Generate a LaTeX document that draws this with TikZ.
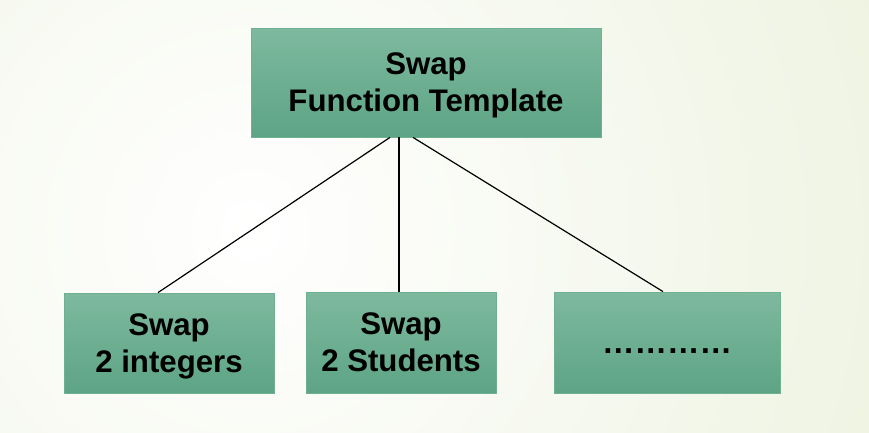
\documentclass[tikz,border=0pt]{standalone}
\usepackage{fontspec}
\setmainfont{Liberation Sans}
\usepackage{tikz}

\definecolor{bgGreen}{RGB}{220,231,194}
\definecolor{boxTop}{RGB}{126,185,158}
\definecolor{boxBot}{RGB}{93,164,133}
\definecolor{boxEdge}{RGB}{112,176,146}

\tikzset{
  tbox/.style={draw=boxEdge, line width=0.8pt, top color=boxTop, bottom color=boxBot,
    inner sep=0pt, align=center, font=\fontsize{31.2}{37}\selectfont\bfseries, text depth=0pt},
  link/.style={line width=1.2pt, black}
}

\begin{document}
\begin{tikzpicture}[x=1pt,y=-1pt]
  \useasboundingbox (0,0) rectangle (869,432);
  % Background
  \begin{scope}
    \clip (0,0) rectangle (869,432);
    \shade[inner color=white, outer color=bgGreen] (250,230) circle (1400pt);
  \end{scope}
  % Template box
  \node[tbox, minimum width=350pt, minimum height=109pt] (tmpl) at (426,82.5) {Swap\\Function Template};
  % Instances
  \node[tbox, minimum width=210pt, minimum height=100pt] (ints) at (169,343) {Swap\\2 integers};
  \node[tbox, minimum width=190pt, minimum height=101pt] (studs) at (401,342.5) {Swap\\2 Students};
  \node[tbox, minimum width=226pt, minimum height=101pt, text height=22pt,
    font=\fontsize{32.5}{37}\selectfont\bfseries] (more) at (667,342.5) {…………};
  % Links
  \draw[link] ([xshift=-36pt]tmpl.south) -- ([xshift=-11pt]ints.north);
  \draw[link] ([xshift=-27pt]tmpl.south) -- ([xshift=-2pt]studs.north);
  \draw[link] ([xshift=-13pt]tmpl.south) -- ([xshift=-4pt]more.north);
\end{tikzpicture}
\end{document}
